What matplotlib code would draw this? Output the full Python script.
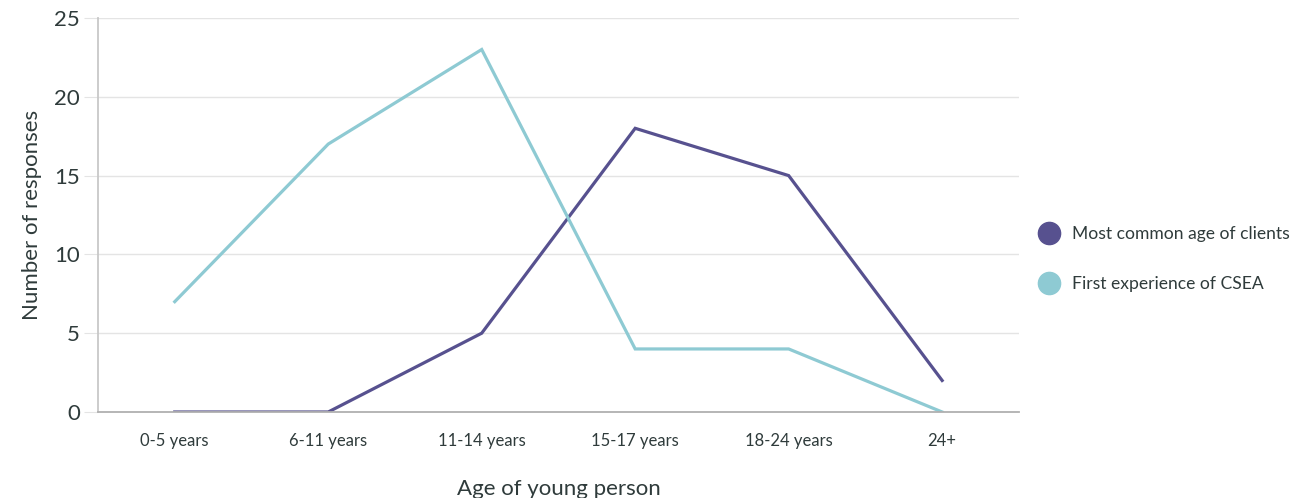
import matplotlib.pyplot as plt
from matplotlib.lines import Line2D

plt.rcParams['font.family'] = ['Lato', 'DejaVu Sans']

ages = ['0-5 years', '6-11 years', '11-14 years', '15-17 years', '18-24 years', '24+']
common_age = [0, 0, 5, 18, 15, 2]
first_csea = [7, 17, 23, 4, 4, 0]

purple = '#57518f'
teal = '#8ecad3'
text_col = '#2f3b3b'
grid_col = '#e4e4e4'

fig = plt.figure(figsize=(12.93, 4.98), dpi=100)
ax = fig.add_axes([0.0758, 0.1727, 0.7122, 0.7912])

x = list(range(len(ages)))
ax.plot(x, common_age, color=purple, lw=2.3, solid_joinstyle='miter')
ax.plot(x, first_csea, color=teal, lw=2.3, solid_joinstyle='miter')

ax.set_xlim(-0.5, 5.5)
ax.set_ylim(0, 25)
ax.set_yticks([0, 5, 10, 15, 20, 25])
ax.set_xticks(x)
ax.set_xticklabels(ages)
ax.grid(axis='y', color=grid_col, lw=1)
ax.set_axisbelow(True)

for s in ['top', 'right']:
    ax.spines[s].set_visible(False)
ax.spines['left'].set_color('#c8c8c8')
ax.spines['bottom'].set_color('#b0b0b0')
ax.spines['left'].set_linewidth(1.3)
ax.spines['bottom'].set_linewidth(1.3)

ax.tick_params(axis='y', length=10, color=grid_col, labelsize=16, labelcolor=text_col, pad=3)
ax.tick_params(axis='x', length=0, labelsize=12, labelcolor=text_col, pad=15)

ax.set_xlabel('Age of young person', fontsize=16, color=text_col, labelpad=22)
ax.set_ylabel('Number of responses', fontsize=16, color=text_col, labelpad=9)

handles = [Line2D([], [], marker='o', ls='none', color=purple, markersize=16),
           Line2D([], [], marker='o', ls='none', color=teal, markersize=16)]
fig.legend(handles, ['Most common age of clients', 'First experience of CSEA'],
           loc='upper left', bbox_to_anchor=(0.7925, 0.56), frameon=False,
           fontsize=12.6, labelcolor=text_col, handletextpad=0.3,
           labelspacing=1.95, borderaxespad=0)

fig.savefig('out.png', dpi=100)
